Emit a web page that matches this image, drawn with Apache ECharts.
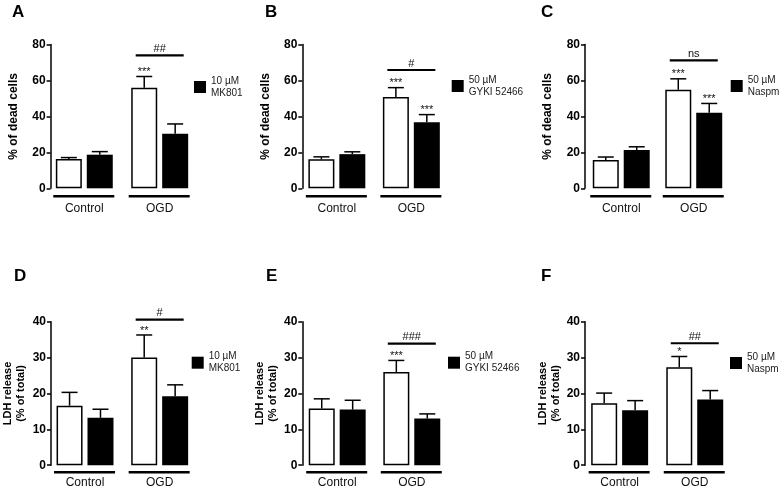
<!DOCTYPE html>
<html><head><meta charset="utf-8">
<script src="https://cdn.jsdelivr.net/npm/echarts@6/dist/echarts.min.js"></script>
<style>html,body{margin:0;padding:0;background:#fff}#c{width:782px;height:492px}</style>
</head><body><div id="c"></div>
<script>
// ---------- DATA ----------
const categories = ['Control', 'OGD'];
const vehicleName = 'Vehicle';

// Panel A: % of dead cells, MK801
const aDrugName = '10 µM\nMK801';
const aVehicle = [16.3, 56.0];
const aVehicleSem = [0.8, 6.2];
const aDrug = [18.7, 30.3];
const aDrugSem = [1.7, 5.5];
const aVehicleStars = ['', '***'];
const aDrugStars = ['', ''];
const aSigLevel = 74.0;
const aSigLabel = '##';

// Panel B: % of dead cells, GYKI 52466
const bDrugName = '50 µM\nGYKI 52466';
const bVehicle = [16.1, 50.8];
const bVehicleSem = [1.4, 5.2];
const bDrug = [19.0, 36.7];
const bDrugSem = [1.3, 4.3];
const bVehicleStars = ['', '***'];
const bDrugStars = ['', '***'];
const bSigLevel = 65.8;
const bSigLabel = '#';

// Panel C: % of dead cells, Naspm
const cDrugName = '50 µM\nNaspm';
const cVehicle = [15.8, 54.8];
const cVehicleSem = [1.6, 6.1];
const cDrug = [21.3, 42.0];
const cDrugSem = [1.8, 5.2];
const cVehicleStars = ['', '***'];
const cDrugStars = ['', '***'];
const cSigLevel = 71.2;
const cSigLabel = 'ns';

// Panel D: LDH release, MK801
const dVehicle = [16.6, 30.0];
const dVehicleSem = [3.7, 6.3];
const dDrug = [13.2, 19.2];
const dDrugSem = [2.4, 3.2];
const dVehicleStars = ['', '**'];
const dDrugStars = ['', ''];
const dSigLevel = 40.6;
const dSigLabel = '#';

// Panel E: LDH release, GYKI 52466
const eVehicle = [15.8, 26.0];
const eVehicleSem = [2.7, 3.2];
const eDrug = [15.5, 13.0];
const eDrugSem = [2.6, 1.3];
const eVehicleStars = ['', '***'];
const eDrugStars = ['', ''];
const eSigLevel = 33.9;
const eSigLabel = '###';

// Panel F: LDH release, Naspm
const fVehicle = [17.3, 27.3];
const fVehicleSem = [2.8, 3.0];
const fDrug = [15.3, 18.3];
const fDrugSem = [2.7, 2.5];
const fVehicleStars = ['', '*'];
const fDrugStars = ['', ''];
const fSigLevel = 34.0;
const fSigLabel = '##';

const topYName = '% of dead cells';
const bottomYName = 'LDH release\n(% of total)';
const topMax = 80, topInterval = 20;
const bottomMax = 40, bottomInterval = 10;

// ---------- PANELS (data + layout) ----------
const panels = [
  {letter:'A', name:aDrugName, veh:aVehicle, vehSem:aVehicleSem, drug:aDrug, drugSem:aDrugSem, vStars:aVehicleStars, dStars:aDrugStars, sig:aSigLevel, sigLabel:aSigLabel, yName:topYName, max:topMax, interval:topInterval},
  {letter:'B', name:bDrugName, veh:bVehicle, vehSem:bVehicleSem, drug:bDrug, drugSem:bDrugSem, vStars:bVehicleStars, dStars:bDrugStars, sig:bSigLevel, sigLabel:bSigLabel, yName:topYName, max:topMax, interval:topInterval},
  {letter:'C', name:cDrugName, veh:cVehicle, vehSem:cVehicleSem, drug:cDrug, drugSem:cDrugSem, vStars:cVehicleStars, dStars:cDrugStars, sig:cSigLevel, sigLabel:cSigLabel, yName:topYName, max:topMax, interval:topInterval},
  {letter:'D', name:aDrugName, veh:dVehicle, vehSem:dVehicleSem, drug:dDrug, drugSem:dDrugSem, vStars:dVehicleStars, dStars:dDrugStars, sig:dSigLevel, sigLabel:dSigLabel, yName:bottomYName, max:bottomMax, interval:bottomInterval},
  {letter:'E', name:bDrugName, veh:eVehicle, vehSem:eVehicleSem, drug:eDrug, drugSem:eDrugSem, vStars:eVehicleStars, dStars:eDrugStars, sig:eSigLevel, sigLabel:eSigLabel, yName:bottomYName, max:bottomMax, interval:bottomInterval},
  {letter:'F', name:cDrugName, veh:fVehicle, vehSem:fVehicleSem, drug:fDrug, drugSem:fDrugSem, vStars:fVehicleStars, dStars:fDrugStars, sig:fSigLevel, sigLabel:fSigLabel, yName:bottomYName, max:bottomMax, interval:bottomInterval}
];

const layouts = [
  {left:46.6, top:44.5, width:150.8, height:143.8, offset:-4,   nameGap:30, nameSize:12, lm:14,   drop:8, lgL:194,   lgT:73,   ltL:12,  ltT:4},
  {left:299.6,top:44.5, width:149,   height:143.8, offset:-2.7, nameGap:30, nameSize:12, lm:14,   drop:8, lgL:451.7, lgT:72,   ltL:265, ltT:4},
  {left:585,  top:44.5, width:145,   height:143.8, offset:0,    nameGap:30, nameSize:12, lm:14,   drop:8, lgL:730.7, lgT:72,   ltL:541, ltT:4},
  {left:47.7, top:321.7,width:149.3, height:143.5, offset:-3.3, nameGap:24, nameSize:11, lm:11.5, drop:7, lgL:191.7, lgT:348.7,ltL:14,  ltT:268},
  {left:299.9,top:321.7,width:149.2, height:143.5, offset:-2.4, nameGap:23, nameSize:11, lm:11.5, drop:7, lgL:448,   lgT:348.7,ltL:266, ltT:268},
  {left:582.1,top:321.7,width:150.2, height:143.5, offset:-2.9, nameGap:23, nameSize:11, lm:11.5, drop:7, lgL:730,   lgT:349,  ltL:541, ltT:268}
];

const FONT = '"Liberation Sans", Arial, Helvetica, sans-serif';
const BAR_W = 26;
const BAR_GAP = 0.19;
const BAR_SHIFT = (BAR_W + BAR_W * BAR_GAP) / 2;
const CAP = 8;

const option = {
  animation: false,
  backgroundColor: '#fff',
  textStyle: {fontFamily: FONT},
  title: [], grid: [], xAxis: [], yAxis: [], legend: [], series: []
};

panels.forEach((p, i) => {
  const L = layouts[i];
  option.title.push({text: p.letter, left: L.ltL, top: L.ltT, padding: 0,
    textStyle: {fontFamily: FONT, fontSize: 17, fontWeight: 'bold', color: '#000'}});
  option.grid.push({left: L.left, top: L.top, width: L.width, height: L.height, containLabel: false});
  option.xAxis.push({type: 'category', gridIndex: i, data: categories,
    axisLine: {show: false}, axisTick: {show: false}, splitLine: {show: false},
    axisLabel: {fontFamily: FONT, fontSize: 12, color: '#111', margin: L.lm}});
  option.yAxis.push({type: 'value', gridIndex: i, min: 0, max: p.max, interval: p.interval,
    offset: L.offset,
    name: p.yName, nameLocation: 'middle', nameGap: L.nameGap, nameRotate: 90,
    nameTextStyle: {fontFamily: FONT, fontSize: L.nameSize, fontWeight: 'bold', color: '#000', lineHeight: L.nameSize + 2},
    axisLine: {show: true, lineStyle: {color: '#000', width: 1.5}},
    axisTick: {show: true, length: 4, lineStyle: {color: '#000', width: 1.5}},
    splitLine: {show: false},
    axisLabel: {fontFamily: FONT, fontSize: 12, fontWeight: 'bold', color: '#000', margin: 5}});
  option.legend.push({data: [p.name], left: L.lgL, top: L.lgT, orient: 'vertical', padding: 0,
    itemWidth: 12, itemHeight: 12, icon: 'rect', selectedMode: false,
    textStyle: {fontFamily: FONT, fontSize: 10, lineHeight: 12, color: '#222', padding: [4, 0, 0, 0]}});
  option.series.push({type: 'bar', name: vehicleName, xAxisIndex: i, yAxisIndex: i, data: p.veh,
    barWidth: BAR_W, barGap: (BAR_GAP * 100) + '%',
    itemStyle: {color: '#fff', borderColor: '#000', borderWidth: 1.5}, emphasis: {disabled: true}, silent: true});
  option.series.push({type: 'bar', name: p.name, xAxisIndex: i, yAxisIndex: i, data: p.drug,
    barWidth: BAR_W, barGap: (BAR_GAP * 100) + '%',
    itemStyle: {color: '#000'}, emphasis: {disabled: true}, silent: true});
  // error bars + stars
  const errData = [];
  p.veh.forEach((v, k) => errData.push([k, v, v + p.vehSem[k], 0]));
  p.drug.forEach((v, k) => errData.push([k, v, v + p.drugSem[k], 1]));
  option.series.push({type: 'custom', name: 'err' + i, xAxisIndex: i, yAxisIndex: i, data: errData, silent: true, z: 5,
    renderItem: (params, api) => {
      const cat = api.value(0), side = api.value(3);
      const base = api.coord([cat, api.value(1)]);
      const capPt = api.coord([cat, api.value(2)]);
      const x = base[0] + (side === 0 ? -BAR_SHIFT : BAR_SHIFT);
      const stars = (side === 0 ? p.vStars : p.dStars)[cat];
      const ch = [
        {type: 'line', shape: {x1: x, y1: base[1], x2: x, y2: capPt[1]}, style: {stroke: '#000', lineWidth: 1.5}},
        {type: 'line', shape: {x1: x - CAP, y1: capPt[1], x2: x + CAP, y2: capPt[1]}, style: {stroke: '#000', lineWidth: 1.5}}
      ];
      if (stars) ch.push({type: 'text', style: {text: stars, x: x, y: capPt[1] - 4.5, align: 'center', verticalAlign: 'middle',
        fontFamily: FONT, fontSize: 11, fill: '#111'}});
      return {type: 'group', children: ch};
    }});
  // group underlines
  option.series.push({type: 'custom', name: 'grp' + i, xAxisIndex: i, yAxisIndex: i,
    data: categories.map((c, k) => [k, 0]), silent: true, clip: false,
    renderItem: (params, api) => {
      const c = api.coord([api.value(0), 0]);
      const y = c[1] + L.drop;
      return {type: 'line', shape: {x1: c[0] - 31, y1: y, x2: c[0] + 30, y2: y}, style: {stroke: '#000', lineWidth: 2.6}};
    }});
  // significance line
  option.series.push({type: 'custom', name: 'sig' + i, xAxisIndex: i, yAxisIndex: i,
    data: [[1, p.sig]], silent: true, clip: false,
    renderItem: (params, api) => {
      const c = api.coord([api.value(0), api.value(1)]);
      return {type: 'group', children: [
        {type: 'line', shape: {x1: c[0] - 24, y1: c[1], x2: c[0] + 24, y2: c[1]}, style: {stroke: '#000', lineWidth: 2.2}},
        {type: 'text', style: {text: p.sigLabel, x: c[0], y: c[1] - 6.5, align: 'center', verticalAlign: 'middle',
          fontFamily: FONT, fontSize: 11, fill: '#111'}}
      ]};
    }});
});

const chart = echarts.init(document.getElementById('c'), null, {renderer: 'canvas', width: 782, height: 492});
chart.setOption(option);
</script>
</body></html>
